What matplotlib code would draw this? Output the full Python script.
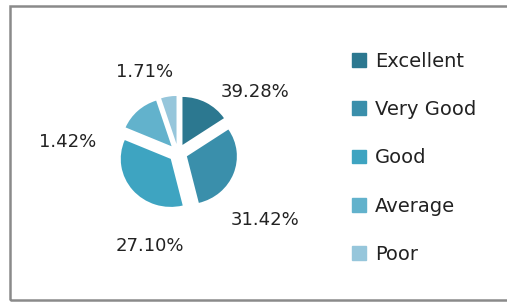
import matplotlib.pyplot as plt
from matplotlib.patches import Rectangle

# slice sizes as drawn and the printed labels
categories = ['Excellent', 'Very Good', 'Good', 'Average', 'Poor']
slice_sizes = [15.6, 30.6, 35.3, 13.6, 5.0]
pct_labels = ['39.28%', '31.42%', '27.10%', '1.42%', '1.71%']
colors = ['#2c7890', '#3a8fab', '#3ea4c1', '#62b2cc', '#96c6db']

# where the percentage labels sit, in pixels from the pie centre
label_offsets = [(77, 61), (87, -67), (-28, -93), (-110, 11), (-33, 81)]

plt.rcParams['font.family'] = ['DejaVu Sans']

W, H = 507, 303
fig = plt.figure(figsize=(W / 100, H / 100), dpi=100)
fig.patch.set_facecolor('white')

# grey frame around the chart
fig.patches.append(Rectangle((10 / W, 3 / H), 600 / W, 294 / H, transform=fig.transFigure,
                             fill=False, edgecolor='#8a8a8a', linewidth=1.8))

# pie centre in pixels from top-left; the original pie is a touch wider than tall
cx, cy, Rx, Ry = 178, 153, 50, 48
half = 110
ax = fig.add_axes([(cx - half) / W, (H - cy - half) / H, 2 * half / W, 2 * half / H])

wedges, _ = ax.pie(slice_sizes, colors=colors, startangle=90, counterclock=False,
                   explode=[0.19] * 5, radius=1.0,
                   wedgeprops=dict(linewidth=0))
ax.set_aspect('auto')
ax.set_xlim(-half / Rx, half / Rx)
ax.set_ylim(-half / Ry, half / Ry)
ax.axis('off')

for txt, (dx, dy) in zip(pct_labels, label_offsets):
    ax.text(dx / Rx, dy / Ry, txt, ha='center', va='center', fontsize=13, color='#222222')

handles = [Rectangle((0, 0), 1, 1, color=c) for c in colors]
fig.legend(handles, categories, loc='upper left', bbox_to_anchor=(352 / W, 1 - 52 / H),
           frameon=False, fontsize=14, handlelength=0.72, handleheight=0.72,
           handletextpad=0.45, labelspacing=1.5, borderpad=0, borderaxespad=0,
           labelcolor='#222222')

fig.savefig('out.png', dpi=100)
